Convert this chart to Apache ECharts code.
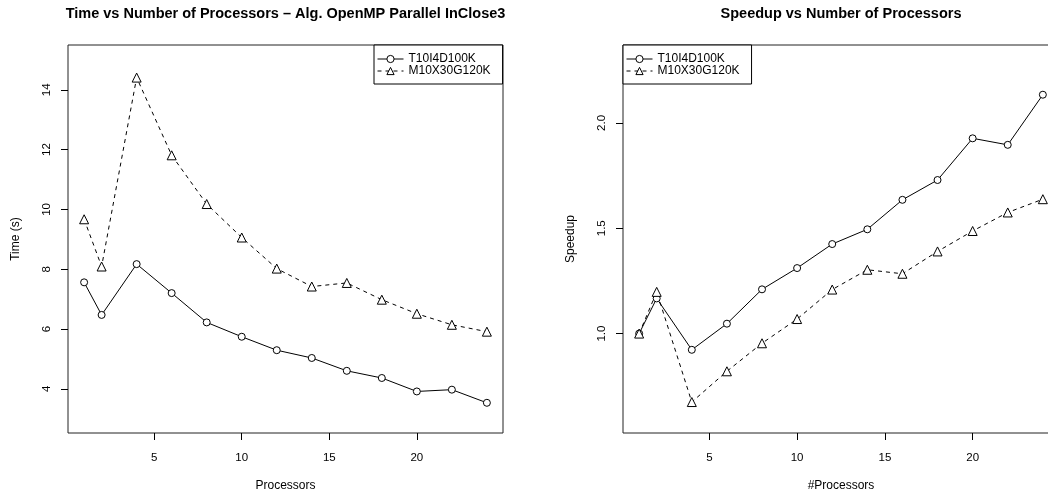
<!DOCTYPE html>
<html>
<head>
    <meta charset="UTF-8">
    <title>Processors</title>
    <script src="https://cdn.jsdelivr.net/npm/echarts@6/dist/echarts.min.js"></script>
    <style>
        html, body { margin: 0; padding: 0; background: #fff; overflow: hidden; width: 1048px; height: 497px; }
    </style>
</head>
<body>
<!-- the right panel runs past the window edge in the original, so the canvas is wider and gets cut -->
<div id="main" style="width: 1080px;height:497px;"></div>

<script>
    // values
    var processors = [1, 2, 4, 6, 8, 10, 12, 14, 16, 18, 20, 22, 24];
    var timeT10 = [7.56, 6.47, 8.17, 7.20, 6.22, 5.74, 5.29, 5.03, 4.60, 4.36, 3.91, 3.97, 3.53];
    var timeM10 = [9.67, 8.09, 14.41, 11.81, 10.18, 9.06, 8.02, 7.42, 7.54, 6.98, 6.51, 6.14, 5.91];
    var speedT10 = [1.00, 1.167, 0.923, 1.047, 1.21, 1.311, 1.425, 1.495, 1.635, 1.729, 1.927, 1.896, 2.134];
    var speedM10 = [1.00, 1.198, 0.675, 0.821, 0.954, 1.069, 1.209, 1.303, 1.284, 1.39, 1.487, 1.575, 1.638];

    var xTicks = [5, 10, 15, 20];
    var timeTicks = [4, 6, 8, 10, 12, 14];
    var speedTicks = [1.0, 1.5, 2.0];

    var names = ['T10I4D100K', 'M10X30G120K'];
    var font = 'Liberation Sans';

    function pairs(xs, ys) {
        return xs.map(function (x, i) { return [x, ys[i]]; });
    }

    function xAxis(idx, name) {
        return {
            type: 'value', gridIndex: idx, min: 0.08, max: 24.92,
            name: name, nameLocation: 'middle', nameGap: 47,
            nameTextStyle: {fontFamily: font, fontSize: 12, color: '#000'},
            axisLine: {show: false},
            axisTick: {show: true, length: 7, lineStyle: {color: '#000'}, customValues: xTicks},
            axisLabel: {fontFamily: font, fontSize: 11.5, color: '#000', margin: 19, customValues: xTicks},
            splitLine: {show: false}
        };
    }

    function yAxis(idx, name, min, max, ticks, fmt) {
        return {
            type: 'value', gridIndex: idx, min: min, max: max,
            name: name, nameLocation: 'middle', nameGap: 46, nameRotate: 90,
            nameTextStyle: {fontFamily: font, fontSize: 12, color: '#000'},
            axisLine: {show: false},
            axisTick: {show: true, length: 7, lineStyle: {color: '#000'}, customValues: ticks},
            axisLabel: {
                fontFamily: font, fontSize: 11.5, color: '#000', margin: 15, rotate: 90,
                customValues: ticks, formatter: fmt
            },
            splitLine: {show: false}
        };
    }

    function line(name, idx, data, dashed) {
        return {
            name: name, type: 'line', xAxisIndex: idx, yAxisIndex: idx,
            data: data,
            symbol: dashed ? 'triangle' : 'circle',
            symbolSize: dashed ? 9 : 7,
            itemStyle: {color: '#fff', borderColor: '#000', borderWidth: 1},
            lineStyle: {color: '#000', width: 1, type: dashed ? [4, 4] : 'solid'},
            animation: false
        };
    }

    function legend(pos) {
        return Object.assign({
            top: 45, orient: 'vertical', data: names,
            backgroundColor: '#fff', borderColor: '#000', borderWidth: 1, borderRadius: 0,
            padding: [8, 12, 7, 3], itemGap: 0, itemWidth: 26, itemHeight: 9,
            itemStyle: {color: '#fff', borderColor: '#000', borderWidth: 1},
            lineStyle: {color: '#000', width: 1},
            textStyle: {fontFamily: font, fontSize: 12, color: '#000', lineHeight: 12},
            selectedMode: false
        }, pos);
    }

    var myChart = echarts.init(document.getElementById('main'));
    var option = {
        backgroundColor: '#fff',
        animation: false,
        title: [
            {text: 'Time vs Number of Processors \u2013 Alg. OpenMP Parallel InClose3', left: 285.5, top: 6,
                textAlign: 'center', padding: 0,
                textStyle: {fontFamily: font, fontSize: 14.5, fontWeight: 'bold', color: '#000'}},
            {text: 'Speedup vs Number of Processors', left: 841, top: 6, textAlign: 'center', padding: 0,
                textStyle: {fontFamily: font, fontSize: 14.5, fontWeight: 'bold', color: '#000'}}
        ],
        grid: [
            {left: 68, top: 45, width: 435, height: 390, show: true, borderColor: '#222', borderWidth: 1},
            {left: 623, top: 45, width: 436, height: 390, show: true, borderColor: '#222', borderWidth: 1}
        ],
        legend: [
            legend({left: 374}),
            legend({left: 623})
        ],
        xAxis: [xAxis(0, 'Processors'), xAxis(1, '#Processors')],
        yAxis: [
            yAxis(0, 'Time (s)', 2.52, 15.5, timeTicks, function (v) { return String(v); }),
            yAxis(1, 'Speedup', 0.528, 2.37, speedTicks, function (v) { return v.toFixed(1); })
        ],
        series: [
            line(names[0], 0, pairs(processors, timeT10), false),
            line(names[1], 0, pairs(processors, timeM10), true),
            line(names[0], 1, pairs(processors, speedT10), false),
            line(names[1], 1, pairs(processors, speedM10), true)
        ]
    };
    myChart.setOption(option);
</script>
</body>
</html>
